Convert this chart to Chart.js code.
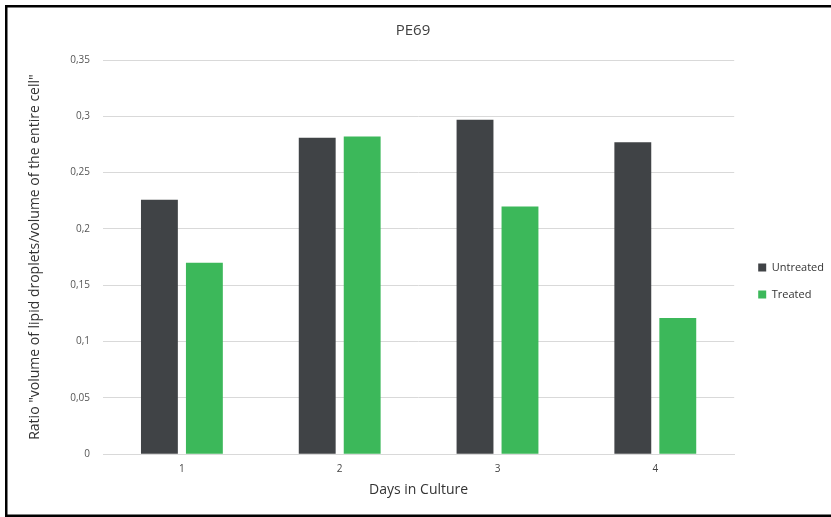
<!DOCTYPE html>
<html>
<head>
<meta charset="utf-8">
<title>PE69</title>
<script src="https://cdn.jsdelivr.net/npm/chart.js@4/dist/chart.umd.min.js"></script>
<style>
  html, body { margin: 0; padding: 0; background: #fff; }
</style>
</head>
<body>
<canvas id="chart" width="831" height="517"></canvas>
<script>
  const days = ["1", "2", "3", "4"];
  const untreated = [0.226, 0.281, 0.297, 0.277];
  const treated = [0.17, 0.282, 0.22, 0.121];
  const yMax = 0.35;
  const yStep = 0.05;

  const FONT = "'Open Sans', 'Liberation Sans', sans-serif";

  function fmtComma(value) {
    return String(Number(value.toFixed(2))).replace(".", ",");
  }

  // white page plus the black frame around it (no right edge in the reference)
  const framePlugin = {
    id: "frame",
    beforeDraw(chart) {
      const { ctx, width, height } = chart;
      ctx.save();
      ctx.fillStyle = "#fff";
      ctx.fillRect(0, 0, width, height);
      ctx.fillStyle = "#000";
      ctx.fillRect(5, 5, width - 5, 2.5);
      ctx.fillRect(5, 5, 2.5, height - 5);
      ctx.fillRect(5, height - 2.5, width - 5, 2.5);
      ctx.restore();
    },
  };

  // nudge the legend a little away from the plot, like the original
  const legendNudge = {
    id: "legendNudge",
    afterLayout(chart) {
      const lg = chart.legend;
      if (!lg) {
        return;
      }
      lg.left += 8;
      lg.right += 8;
      lg.top += 30;
      lg.bottom += 30;
    },
  };

  new Chart(document.getElementById("chart"), {
    type: "bar",
    data: {
      labels: days,
      datasets: [
        {
          label: "Untreated",
          data: untreated,
          backgroundColor: "#404346",
          categoryPercentage: 0.57,
          barPercentage: 0.82,
        },
        {
          label: "Treated",
          data: treated,
          backgroundColor: "#3cb85a",
          categoryPercentage: 0.57,
          barPercentage: 0.82,
        },
      ],
    },
    options: {
      responsive: false,
      animation: false,
      devicePixelRatio: 1,
      layout: { padding: { left: 0, right: 5, top: 0, bottom: 15 } },
      plugins: {
        title: {
          display: true,
          text: "PE69",
          color: "#404040",
          font: { family: FONT, size: 15, weight: "normal" },
          padding: { top: 22, bottom: 20 },
        },
        legend: {
          position: "right",
          labels: {
            boxWidth: 8,
            boxHeight: 8,
            padding: 16,
            color: "#333",
            font: { family: FONT, size: 11 },
          },
        },
        tooltip: { enabled: false },
      },
      scales: {
        x: {
          grid: { display: false, drawTicks: false },
          border: { color: "#d9d9d9" },
          ticks: { color: "#444", padding: 9, font: { family: FONT, size: 10 } },
          title: {
            display: true,
            text: "Days in Culture",
            color: "#333",
            font: { family: FONT, size: 14 },
            padding: { top: -3, bottom: 4 },
          },
        },
        y: {
          min: 0,
          max: yMax,
          afterFit(scale) {
            scale.width = 103;
          },
          grid: { color: "#d9d9d9", drawTicks: false },
          border: { display: false },
          ticks: {
            stepSize: yStep,
            padding: 13,
            color: "#555",
            font: { family: FONT, size: 10 },
            callback: (v) => fmtComma(v),
          },
          title: {
            display: true,
            text: 'Ratio "volume of lipid droplets/volume of the entire cell"',
            color: "#333",
            font: { family: FONT, size: 14 },
            padding: { top: 27, bottom: 4 },
          },
        },
      },
    },
    plugins: [framePlugin, legendNudge],
  });
</script>
</body>
</html>
